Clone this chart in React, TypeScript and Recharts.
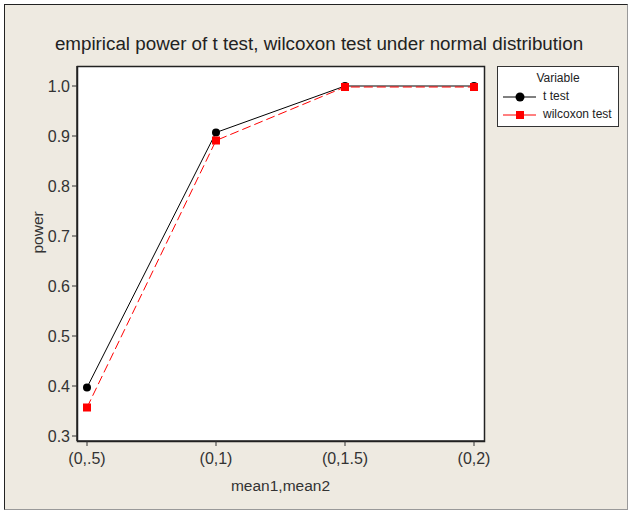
import { LineChart, Line, XAxis, YAxis } from 'recharts';

const categories = ['(0,.5)', '(0,1)', '(0,1.5)', '(0,2)'];
const tTest = [0.397, 0.907, 1.0, 1.0];
const wilcoxon = [0.357, 0.891, 0.998, 0.998];
const yTicks = [0.3, 0.4, 0.5, 0.6, 0.7, 0.8, 0.9, 1.0];

const data = categories.map((c, i) => ({ name: c, t: tTest[i], w: wilcoxon[i] }));

const font = '"Liberation Sans", Arial, sans-serif';

function SquareDot(props: any) {
  const { cx, cy } = props;
  if (cx == null || cy == null) return null;
  return <rect x={cx - 4} y={cy - 4} width={8} height={8} fill="#ff0000" />;
}

function LegendBox() {
  return (
    <div
      style={{
        position: 'absolute',
        left: 497,
        top: 66,
        width: 122,
        height: 61,
        border: '1px solid #333',
        background: '#fff',
        fontFamily: font,
        fontSize: 12,
        color: '#222',
        boxSizing: 'border-box',
      }}
    >
      <div style={{ position: 'absolute', left: 0, width: 120, top: 4, textAlign: 'center' }}>Variable</div>
      <svg style={{ position: 'absolute', left: 0, top: 0 }} width={120} height={59}>
        <line x1={5} x2={38} y1={30} y2={30} stroke="#000" strokeWidth={1} />
        <circle cx={22} cy={30} r={4.5} fill="#000" />
        <line x1={5} x2={38} y1={48} y2={48} stroke="#ff0000" strokeWidth={1} />
        <rect x={18} y={44} width={8} height={8} fill="#ff0000" />
      </svg>
      <div style={{ position: 'absolute', left: 45, top: 22 }}>t test</div>
      <div style={{ position: 'absolute', left: 45, top: 40 }}>wilcoxon test</div>
    </div>
  );
}

export default function App() {
  return (
    <div style={{ position: 'absolute', left: 0, top: 0, width: 630, height: 511, background: '#fff' }}>
      <div
        style={{
          position: 'absolute',
          left: 4,
          top: 4,
          width: 622,
          height: 504,
          background: '#eeeae1',
          borderTop: '1px solid #222',
          borderLeft: '1px solid #222',
          borderRight: '1px solid #999',
          borderBottom: '1px solid #999',
        }}
      />
      <div style={{ position: 'absolute', left: 0, top: 0 }}>
        <LineChart width={630} height={511} data={data} margin={{ top: 66, right: 146, left: 27, bottom: 40 }}>
          <text x={319} y={50} textAnchor="middle" fontFamily={font} fontSize={18.8} fill="#222">
            empirical power of t test, wilcoxon test under normal distribution
          </text>
          <rect x={77.5} y={66.5} width={407} height={375} fill="#fff" stroke="#222" strokeWidth={1.5} />
          <XAxis
            dataKey="name"
            padding={{ left: 10, right: 10 }}
            stroke="#222"
            strokeWidth={1.5}
            tickLine={{ stroke: '#333', strokeWidth: 1 }}
            tickSize={5}
            height={30}
            tick={{ fontFamily: font, fontSize: 16, fill: '#333', dy: 5 }}
            label={{ value: 'mean1,mean2', position: 'insideBottom', offset: -20, fontFamily: font, fontSize: 15.5, fill: '#333' }}
          />
          <YAxis
            domain={[0.29, 1.04]}
            ticks={yTicks}
            tickFormatter={(v: number) => v.toFixed(1)}
            width={50}
            stroke="#222"
            strokeWidth={1.5}
            tickLine={{ stroke: '#333', strokeWidth: 1 }}
            tickSize={5}
            tick={{ fontFamily: font, fontSize: 16, fill: '#333' }}
            label={{ value: 'power', angle: -90, position: 'insideLeft', offset: 10, fontFamily: font, fontSize: 15.5, fill: '#333' }}
          />
          <Line
            dataKey="t"
            name="t test"
            stroke="#000"
            strokeWidth={1}
            dot={{ r: 4, fill: '#000', stroke: '#000', strokeWidth: 0 }}
            isAnimationActive={false}
          />
          <Line
            dataKey="w"
            name="wilcoxon test"
            stroke="#ff0000"
            strokeWidth={1}
            strokeDasharray="9 4"
            dot={<SquareDot />}
            isAnimationActive={false}
          />
        </LineChart>
      </div>
      <LegendBox />
    </div>
  );
}
